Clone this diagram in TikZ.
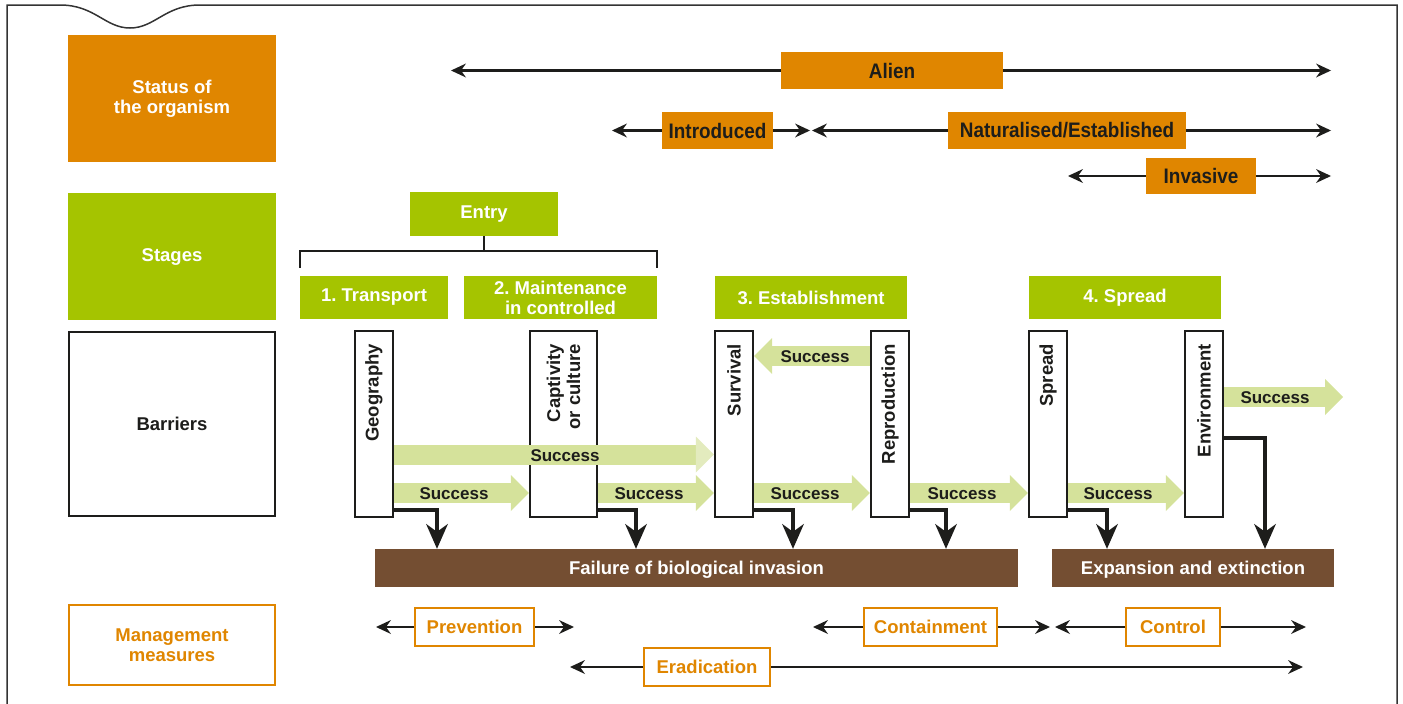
\documentclass[tikz,border=0pt]{standalone}
\usepackage{fontspec}
\setmainfont{Liberation Sans}
\newfontfamily\condfont[FakeStretch=0.9]{Liberation Sans}
\usetikzlibrary{arrows.meta,calc}
\definecolor{corange}{HTML}{E08600}
\definecolor{cgreen}{HTML}{A5C400}
\definecolor{clight}{HTML}{D5E29B}
\definecolor{clighter}{HTML}{E3EBBE}
\definecolor{cbrown}{HTML}{744E32}
\definecolor{cdark}{HTML}{1D1D1B}
\frenchspacing
\begin{document}
\begin{tikzpicture}[x=1pt,y=-1pt,
  every node/.style={inner sep=0pt, align=center, text=cdark,
    font=\bfseries\fontsize{18.5}{20}\selectfont},
  lorange/.style={fill=corange, text=white, minimum width=208pt, minimum height=127pt},
  lgreen/.style={fill=cgreen, text=white, minimum width=208pt, minimum height=127pt},
  lbar/.style={draw=cdark, line width=2pt, fill=white, minimum width=206pt, minimum height=184pt},
  lmgmt/.style={draw=corange, line width=2.5pt, fill=white, text=corange, minimum width=206pt, minimum height=80pt},
  sbox/.style={fill=corange, text=cdark, minimum height=37pt,
    font=\condfont\bfseries\fontsize{21}{22}\selectfont},
  gbox/.style={fill=cgreen, text=white, minimum height=43pt},
  barbox/.style={draw=cdark, line width=2.2pt, fill=white, minimum width=38pt, minimum height=186pt},
  blabel/.style={rotate=90, anchor=east, align=right},
  brownbox/.style={fill=cbrown, text=white, minimum height=38pt, text depth=0pt},
  mbox/.style={draw=corange, line width=2.5pt, fill=white, text=corange, minimum height=38pt},
  stext/.style={font=\bfseries\fontsize{17}{20}\selectfont},
  succ/.style={line width=20pt, draw=clight, -{Triangle[length=18pt,width=36pt,line width=0pt]}},
  succlong/.style={line width=20pt, draw=clight, -{Triangle[length=18pt,width=36pt,line width=0pt,color=clighter]}},
  failarrow/.style={line width=4pt, draw=cdark, -{Stealth[length=25pt,width=22pt,inset=8pt,line width=0pt]}},
  statarrow/.style={line width=2.6pt, draw=cdark, -{Stealth[length=15pt,width=14pt,inset=5pt,line width=0pt]}},
  bracket/.style={line width=2pt, draw=cdark}
]
\useasboundingbox (0,0) rectangle (1403,704);

% frame
\draw[line width=1.5pt, draw=black!80] (7,704) -- (7,5) -- (60,5)
  .. controls (95,5) and (105,28) .. (130,28)
  .. controls (155,28) and (165,5) .. (200,5) -- (1397,5) -- (1397,704);

% left column
\node[lorange] (status) at (172,98.5) {Status of\\the organism};
\node[lgreen] (stages) at (172,256.5) {Stages};
\node[lbar] (barriers) at (172,424) {Barriers};
\node[lmgmt] (mgmt) at (172,645) {Management\\measures};

% status row
\node[sbox, minimum width=222pt] (alien) at (892,70.5) {Alien};
\node[sbox, minimum width=111pt] (intro) at (717.5,130.5) {Introduced};
\node[sbox, minimum width=238pt] (nat) at (1067,130.5) {Naturalised/Established};
\node[sbox, minimum width=110pt, minimum height=36pt] (inv) at (1201,176) {Invasive};
\coordinate (aL) at (451,70.5);
\coordinate (aR) at (1331,70.5);
\coordinate (iL) at (612,130.5);
\coordinate (iR) at (810,130.5);
\coordinate (nL) at (812,130.5);
\coordinate (nR) at (1331,130.5);
\coordinate (vL) at (1068,176);
\coordinate (vR) at (1331,176);
\draw[statarrow] (alien.west) -- (aL);
\draw[statarrow] (alien.east) -- (aR);
\draw[statarrow] (intro.west) -- (iL);
\draw[statarrow] (intro.east) -- (iR);
\draw[statarrow] (nat.west) -- (nL);
\draw[statarrow] (nat.east) -- (nR);
\draw[statarrow] (inv.west) -- (vL);
\draw[statarrow] (inv.east) -- (vR);

% stages
\node[gbox, minimum width=148pt, minimum height=44pt] (entry) at (484,214) {Entry};
\node[gbox, minimum width=148pt] (s1) at (374,297.5) {1. Transport};
\node[gbox, minimum width=193pt] (s2) at (560.5,297.5) {2. Maintenance\\in controlled};
\node[gbox, minimum width=192pt] (s3) at (811,297.5) {3. Establishment};
\node[gbox, minimum width=192pt] (s4) at (1125,297.5) {4. Spread};
\draw[bracket] (entry.south) -- ++(0,15);
\draw[bracket] ($(s1.north west)+(0,-8)$) -- ($(s1.north west)+(0,-25)$)
  -- ($(s2.north east)+(0,-25)$) -- ($(s2.north east)+(0,-8)$);

% barriers
\node[barbox] (geo) at (374,424) {};
\node[barbox, minimum width=67pt] (capt) at (563.5,424) {};
\node[barbox] (surv) at (734,424) {};
\node[barbox] (repr) at (890,424) {};
\node[barbox] (spr) at (1048,424) {};
\node[barbox] (env) at (1204,424) {};
\node[blabel] (geoT) at ($(geo.north)+(0,14)$) {Geography};
\node[blabel] (captT) at ($(capt.north)+(0,14)$) {Captivity\\or culture};
\node[blabel] (survT) at ($(surv.north)+(0,14)$) {Survival};
\node[blabel] (reprT) at ($(repr.north)+(0,14)$) {Reproduction};
\node[blabel] (sprT) at ($(spr.north)+(0,14)$) {Spread};
\node[blabel] (envT) at ($(env.north)+(0,14)$) {Environment};

% success arrows
\draw[succ] (geo.east |- 0,493) -- (capt.west |- 0,493);
\draw[succ] (capt.east |- 0,493) -- (surv.west |- 0,493);
\draw[succ] (surv.east |- 0,493) -- (repr.west |- 0,493);
\draw[succ] (repr.east |- 0,493) -- (spr.west |- 0,493);
\draw[succ] (spr.east |- 0,493) -- (env.west |- 0,493);
\draw[succlong] (geo.east |- 0,454.5) -- (surv.west |- 0,454.5);
\draw[succ] (repr.west |- 0,356) -- (surv.east |- 0,356);
\coordinate (out) at (1343,397);
\draw[succ] (env.east |- 0,397) -- (out);
\node[stext] (t1) at (454,494) {Success};
\node[stext] (t2) at (649,494) {Success};
\node[stext] (t3) at (805,494) {Success};
\node[stext] (t4) at (962,494) {Success};
\node[stext] (t5) at (1118,494) {Success};
\node[stext] (t6) at (565,455.5) {Success};
\node[stext] (t7) at (815,357) {Success};
\node[stext] (t8) at (1275,398) {Success};

% outcome boxes
\node[brownbox, minimum width=643pt] (fb) at (696.5,568) {Failure of biological invasion};
\node[brownbox, minimum width=282pt] (ee) at (1193,568) {Expansion and extinction};

% failure arrows
\draw[failarrow] (geo.east |- 0,510) -| (fb.north -| 437,0);
\draw[failarrow] (capt.east |- 0,510) -| (fb.north -| 636,0);
\draw[failarrow] (surv.east |- 0,510) -| (fb.north -| 793,0);
\draw[failarrow] (repr.east |- 0,510) -| (fb.north -| 946,0);
\draw[failarrow] (spr.east |- 0,510) -| (ee.north -| 1107,0);
\draw[failarrow] (env.east |- 0,438) -| (ee.north -| 1265,0);

% management
\node[mbox, minimum width=119pt] (prev) at (474.5,627) {Prevention};
\node[mbox, minimum width=133pt] (cont) at (930.5,627) {Containment};
\node[mbox, minimum width=94pt] (ctrl) at (1173,627) {Control};
\node[mbox, minimum width=126pt] (erad) at (707,667) {Eradication};
\coordinate (pL) at (376,627);
\coordinate (pR) at (574,627);
\coordinate (cL) at (813,627);
\coordinate (cR) at (1050,627);
\coordinate (kL) at (1055,627);
\coordinate (kR) at (1306,627);
\coordinate (eL) at (570,667);
\coordinate (eR) at (1303,667);
\draw[statarrow] (prev.west) -- (pL);
\draw[statarrow] (prev.east) -- (pR);
\draw[statarrow] (cont.west) -- (cL);
\draw[statarrow] (cont.east) -- (cR);
\draw[statarrow] (ctrl.west) -- (kL);
\draw[statarrow] (ctrl.east) -- (kR);
\draw[statarrow] (erad.west) -- (eL);
\draw[statarrow] (erad.east) -- (eR);
\end{tikzpicture}
\end{document}
